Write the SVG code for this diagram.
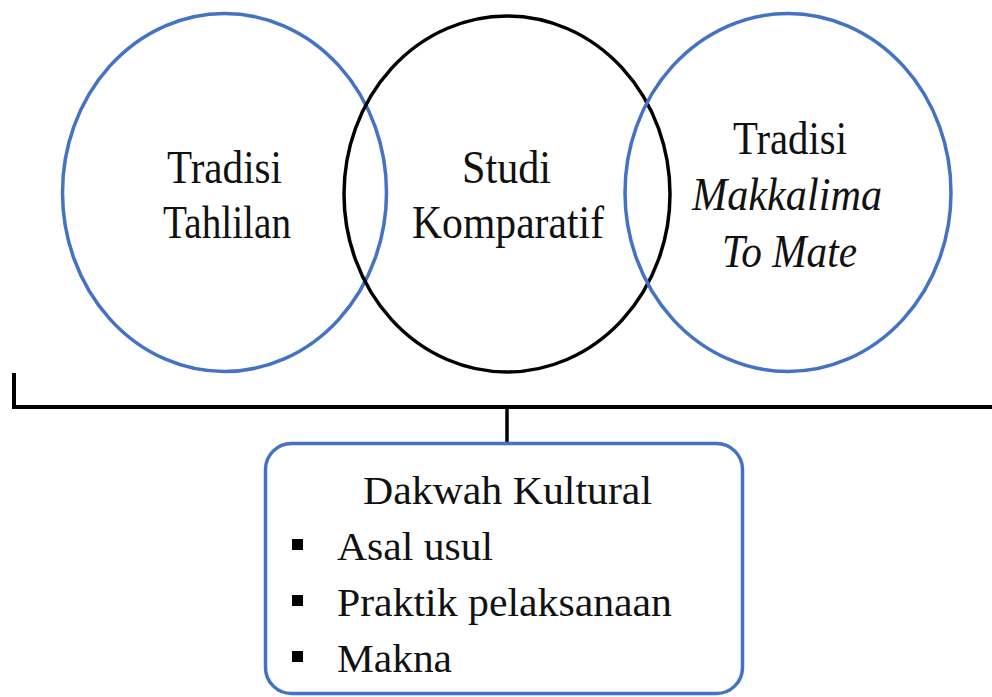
<svg xmlns="http://www.w3.org/2000/svg" width="992" height="697" viewBox="0 0 992 697">
<style>
.blue{fill:none;stroke:#4472C4;stroke-width:3.5}
.blk{fill:none;stroke:#000;stroke-width:3.5}
.t{font-family:"Liberation Serif","Times New Roman",serif;fill:#111;text-anchor:middle}
.top{font-size:46px}
.bot{font-size:41px}
.b{text-anchor:start}
</style>
<rect width="992" height="697" fill="#fff"/>
<g id="tahlilan">
<ellipse class="blue" cx="224.5" cy="192.5" rx="162" ry="179"/>
<text class="t top" x="224.5" y="183" textLength="115" lengthAdjust="spacingAndGlyphs">Tradisi</text>
<text class="t top" x="227" y="238" textLength="128" lengthAdjust="spacingAndGlyphs">Tahlilan</text>
</g>
<g id="studi">
<ellipse class="blk" cx="507" cy="194" rx="163" ry="178"/>
<text class="t top" x="506.5" y="183" textLength="89" lengthAdjust="spacingAndGlyphs">Studi</text>
<text class="t top" x="508" y="238" textLength="192" lengthAdjust="spacingAndGlyphs">Komparatif</text>
</g>
<g id="makkalima">
<ellipse class="blue" cx="788" cy="192.5" rx="163" ry="179"/>
<text class="t top" x="790" y="154" textLength="114" lengthAdjust="spacingAndGlyphs">Tradisi</text>
<text class="t top" x="787" y="210" font-style="italic" textLength="190" lengthAdjust="spacingAndGlyphs">Makkalima</text>
<text class="t top" x="789.5" y="267" font-style="italic" textLength="135" lengthAdjust="spacingAndGlyphs">To Mate</text>
</g>
<g id="connectors">
<polyline class="blk" points="14,373 14,407 992,407" style="stroke-width:4"/>
<line class="blk" x1="507" y1="407" x2="507" y2="443"/>
</g>
<g id="dakwah">
<rect class="blue" x="265.5" y="443.5" width="477" height="250" rx="26"/>
<text class="t bot" x="507.5" y="504" textLength="289" lengthAdjust="spacingAndGlyphs">Dakwah Kultural</text>
<rect x="292" y="539" width="11" height="11" fill="#000"/>
<text class="t bot b" x="337" y="560" textLength="156" lengthAdjust="spacingAndGlyphs">Asal usul</text>
<rect x="292" y="595" width="11" height="11" fill="#000"/>
<text class="t bot b" x="337" y="616" textLength="335" lengthAdjust="spacingAndGlyphs">Praktik pelaksanaan</text>
<rect x="292" y="651" width="11" height="11" fill="#000"/>
<text class="t bot b" x="337" y="672" textLength="115" lengthAdjust="spacingAndGlyphs">Makna</text>
</g>
</svg>
